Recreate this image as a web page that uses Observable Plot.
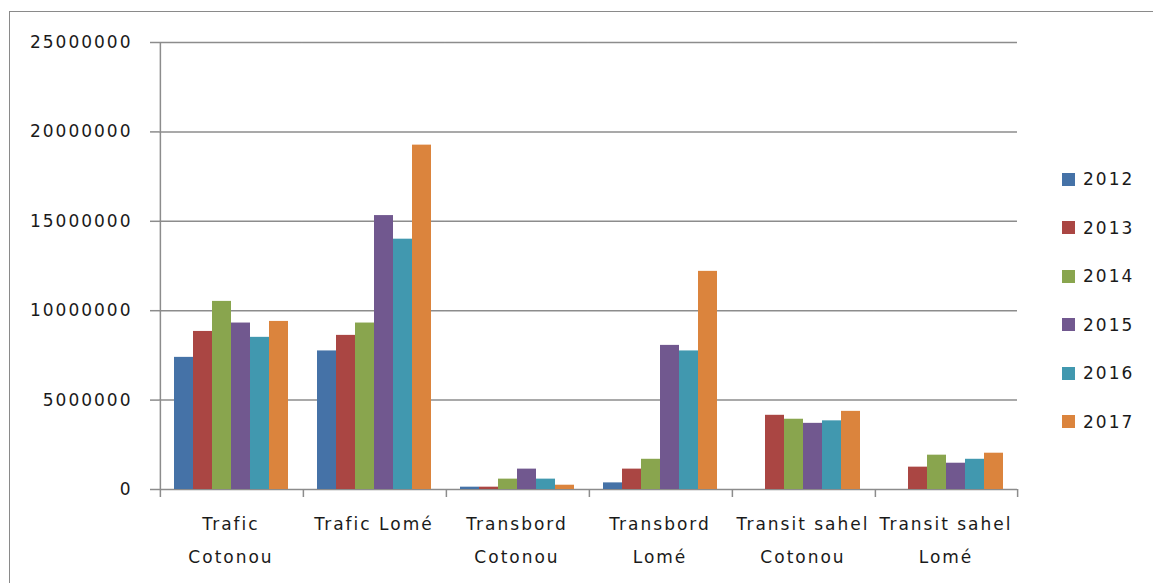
<!DOCTYPE html>
<html>
<head>
<meta charset="utf-8">
<script src="https://cdn.jsdelivr.net/npm/d3@7"></script>
<script src="https://cdn.jsdelivr.net/npm/@observablehq/plot@0.6"></script>
<style>
  html, body { margin: 0; padding: 0; background: #fff; overflow: hidden; }
  #wrap { position: relative; width: 1153px; height: 583px; }
  #border { position: absolute; left: 9px; top: 11px; width: 1300px; height: 800px; border: 1.5px solid #8a8a8a; box-sizing: border-box; pointer-events: none; }
  #chart { position: absolute; left: 0; top: 0; }
  #legend { position: absolute; left: 1062px; top: 155px; font-family: "DejaVu Sans", sans-serif; font-size: 17px; letter-spacing: 2px; color: #1a1a1a; }
  .item { height: 48.5px; display: flex; align-items: center; }
  .sw { width: 13px; height: 13px; margin-right: 8px; }
</style>
</head>
<body>
<div id="wrap"><div id="chart"></div><div id="legend"></div><div id="border"></div></div>
<script>
const categories = ["Trafic Cotonou", "Trafic Lomé", "Transbord Cotonou", "Transbord Lomé", "Transit sahel Cotonou", "Transit sahel Lomé"];
const categoryLabels = ["Trafic\nCotonou", "Trafic Lomé", "Transbord\nCotonou", "Transbord\nLomé", "Transit sahel\nCotonou", "Transit sahel\nLomé"];
const years = ["2012", "2013", "2014", "2015", "2016", "2017"];
const v2012 = [7390000, 7750000, 130000, 370000, 0, 0];
const v2013 = [8840000, 8620000, 130000, 1140000, 4150000, 1250000];
const v2014 = [10520000, 9310000, 580000, 1690000, 3930000, 1920000];
const v2015 = [9310000, 15320000, 1140000, 8060000, 3700000, 1470000];
const v2016 = [8510000, 14000000, 580000, 7750000, 3840000, 1690000];
const v2017 = [9400000, 19260000, 240000, 12200000, 4370000, 2030000];
const yearColors = ["#4572A7", "#AA4643", "#89A54E", "#71588F", "#4198AF", "#DB843D"];
const yTicks = [0, 5000000, 10000000, 15000000, 20000000, 25000000];

const series = [v2012, v2013, v2014, v2015, v2016, v2017];
const data = [];
categories.forEach((c, i) => years.forEach((y, j) => data.push({cat: c, year: y, value: series[j][i]})));

const W = 1153, H = 583, mL = 158, mR = 134, mT = 42, mB = 94;
const pIn = 0.195, pOut = pIn / 2;
const step = (W - mL - mR) / (categories.length - pIn + 2 * pOut);
const bw = step * (1 - pIn);
const gap = step * pIn;
const edge = bw / (2 * years.length) + gap / 2;
const grid = "#8c8c8c";

const chart = Plot.plot({
  width: W, height: H,
  marginLeft: mL, marginRight: mR, marginTop: mT, marginBottom: mB,
  style: {fontFamily: "DejaVu Sans, sans-serif", fontSize: "17px", letterSpacing: "2px", color: "#1a1a1a", background: "transparent"},
  fx: {domain: categories, paddingInner: pIn, paddingOuter: pOut, label: null},
  x: {domain: years, padding: 0, axis: null},
  y: {domain: [0, 25000000], axis: null, label: null},
  color: {domain: years, range: yearColors},
  marks: [
    Plot.ruleY(yTicks, {y: d => d, stroke: grid, strokeWidth: 1.5, insetLeft: -gap / 2, insetRight: -gap / 2}),
    Plot.barY(data, {fx: "cat", x: "year", y: "value", fill: "year"}),
    Plot.ruleX(categories, {fx: d => d, x: () => years[0], y1: (d, i) => i === 0 ? 25000000 : 0, y2: 0, insetBottom: -8, dx: -edge, stroke: grid, strokeWidth: 1.5}),
    Plot.ruleX([categories[categories.length - 1]], {fx: d => d, x: () => years[years.length - 1], y1: 0, y2: 0, insetBottom: -8, dx: edge, stroke: grid, strokeWidth: 1.5}),
    Plot.axisY({ticks: yTicks, tickFormat: d => String(d), tickSize: 9, tickPadding: 18, dx: -gap / 2, stroke: grid, strokeWidth: 1.5, fontSize: 17, label: null}),
    Plot.axisFx({anchor: "bottom", tickSize: 0, tickPadding: 17, lineHeight: 1.95, tickFormat: d => categoryLabels[categories.indexOf(d)], fontSize: 17, label: null})
  ]
});
document.getElementById("chart").appendChild(chart);

const legend = document.getElementById("legend");
years.forEach((y, j) => {
  const row = document.createElement("div");
  row.className = "item";
  const sw = document.createElement("div");
  sw.className = "sw";
  sw.style.background = yearColors[j];
  const t = document.createElement("span");
  t.textContent = y;
  row.appendChild(sw); row.appendChild(t);
  legend.appendChild(row);
});
</script>
</body>
</html>
